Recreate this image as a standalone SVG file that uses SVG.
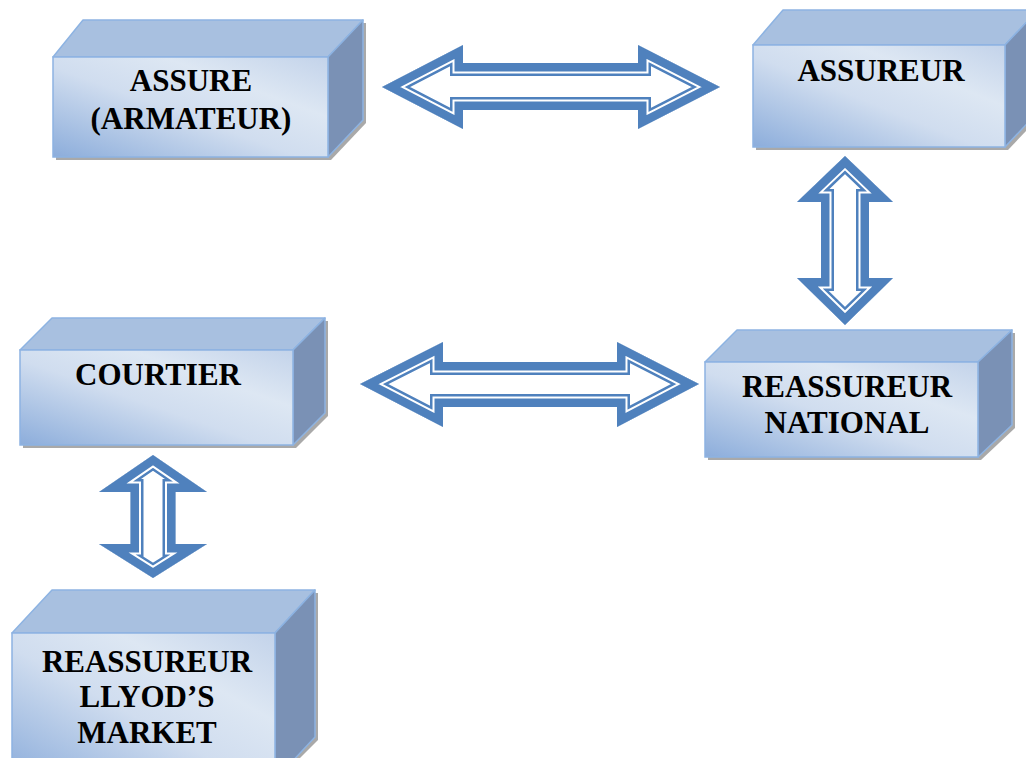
<svg xmlns="http://www.w3.org/2000/svg" width="1026" height="758" viewBox="0 0 1026 758">
<style>
.front{fill:url(#gFront);stroke:#8db3e2;stroke-width:1.5}
.top{fill:#a8c0e0;stroke:#8db3e2;stroke-width:1.5;stroke-linejoin:round}
.side{fill:#7a91b5;stroke:#8db3e2;stroke-width:1.5;stroke-linejoin:round}
.shadow{fill:#8c8c8c;opacity:0.75}
.lbl{font-family:"Liberation Serif","Times New Roman",serif;font-weight:bold;font-size:31px;fill:#000;text-anchor:middle}
.aw{fill:#fff}
.s1{fill:none;stroke:#4f81bd;stroke-width:26;stroke-linejoin:miter;stroke-miterlimit:10}
.s2{fill:none;stroke:#fff;stroke-width:21;stroke-linejoin:miter;stroke-miterlimit:10}
.s3{fill:none;stroke:#4f81bd;stroke-width:17;stroke-linejoin:miter;stroke-miterlimit:10}
</style>
<defs>
<linearGradient id="gFront" x1="0" y1="1" x2="1" y2="0">
<stop offset="0" stop-color="#8caddb"/>
<stop offset="0.45" stop-color="#d0ddef"/>
<stop offset="0.7" stop-color="#dde7f3"/>
<stop offset="1" stop-color="#c3d3ea"/>
</linearGradient>
<path id="a1" d="M382,87 L463,45 L463,63 L638,63 L638,45 L720,87 L638,129 L638,110 L463,110 L463,129 Z"/>
<path id="a2" d="M360,384 L443,342 L443,362 L617,362 L617,342 L699,384 L617,427 L617,407 L443,407 L443,427 Z"/>
<path id="a3" d="M845,156 L893,202 L869,202 L869,278 L893,278 L845,325 L797,278 L821,278 L821,202 L797,202 Z"/>
<path id="a4" d="M153,455 L207,492 L175.5,492 L175.5,544 L207,544 L153,578 L99,544 L130.5,544 L130.5,492 L99,492 Z"/>
<clipPath id="c1"><path d="M382,87 L463,45 L463,63 L638,63 L638,45 L720,87 L638,129 L638,110 L463,110 L463,129 Z"/></clipPath>
<clipPath id="c2"><path d="M360,384 L443,342 L443,362 L617,362 L617,342 L699,384 L617,427 L617,407 L443,407 L443,427 Z"/></clipPath>
<clipPath id="c3"><path d="M845,156 L893,202 L869,202 L869,278 L893,278 L845,325 L797,278 L821,278 L821,202 L797,202 Z"/></clipPath>
<clipPath id="c4"><path d="M153,455 L207,492 L175.5,492 L175.5,544 L207,544 L153,578 L99,544 L130.5,544 L130.5,492 L99,492 Z"/></clipPath>
</defs>
<rect width="1026" height="758" fill="#fff"/>

<g id="connectors">
<g clip-path="url(#c1)"><use href="#a1" class="aw"/><use href="#a1" class="s1"/><use href="#a1" class="s2"/><use href="#a1" class="s3"/></g>
<g clip-path="url(#c2)"><use href="#a2" class="aw"/><use href="#a2" class="s1"/><use href="#a2" class="s2"/><use href="#a2" class="s3"/></g>
<g clip-path="url(#c3)"><use href="#a3" class="aw"/><use href="#a3" class="s1"/><use href="#a3" class="s2"/><use href="#a3" class="s3"/></g>
<g clip-path="url(#c4)"><use href="#a4" class="aw"/><use href="#a4" class="s1"/><use href="#a4" class="s2"/><use href="#a4" class="s3"/></g>
</g>

<g id="assure">
<path class="shadow" d="M56,160 L56,60 L86,23 L366,23 L366,123 L331,160 Z"/>
<path class="top" d="M53,57 L83,20 L363,20 L328,57 Z"/>
<path class="side" d="M328,57 L363,20 L363,120 L328,157 Z"/>
<rect class="front" x="53" y="57" width="275" height="100"/>
<text class="lbl" x="191" y="91">ASSURE</text>
<text class="lbl" x="191" y="129">(ARMATEUR)</text>
</g>

<g id="assureur">
<path class="shadow" d="M756,150 L756,48 L786,13 L1041,13 L1041,115 L1008,150 Z"/>
<path class="top" d="M753,45 L783,10 L1038,10 L1005,45 Z"/>
<path class="side" d="M1005,45 L1038,10 L1038,112 L1005,147 Z"/>
<rect class="front" x="753" y="45" width="252" height="102"/>
<text class="lbl" x="881" y="81">ASSUREUR</text>
</g>

<g id="courtier">
<path class="shadow" d="M23,448 L23,353 L55,321 L328,321 L328,416 L296,448 Z"/>
<path class="top" d="M20,350 L52,318 L325,318 L293,350 Z"/>
<path class="side" d="M293,350 L325,318 L325,413 L293,445 Z"/>
<rect class="front" x="20" y="350" width="273" height="95"/>
<text class="lbl" x="158" y="385">COURTIER</text>
</g>

<g id="reassureur-national">
<path class="shadow" d="M708,460 L708,365 L740,333 L1015,333 L1015,428 L981,460 Z"/>
<path class="top" d="M705,362 L737,330 L1012,330 L978,362 Z"/>
<path class="side" d="M978,362 L1012,330 L1012,425 L978,457 Z"/>
<rect class="front" x="705" y="362" width="273" height="95"/>
<text class="lbl" x="847" y="397">REASSUREUR</text>
<text class="lbl" x="847" y="433">NATIONAL</text>
</g>

<g id="reassureur-lloyds">
<path class="shadow" d="M15,780 L15,636 L55,593 L318,593 L318,740 L278,780 Z"/>
<path class="top" d="M12,633 L52,590 L315,590 L275,633 Z"/>
<path class="side" d="M275,633 L315,590 L315,737 L275,780 Z"/>
<rect class="front" x="12" y="633" width="263" height="147"/>
<text class="lbl" x="147" y="672">REASSUREUR</text>
<text class="lbl" x="147" y="707">LLYOD’S</text>
<text class="lbl" x="147" y="743">MARKET</text>
</g>
</svg>
